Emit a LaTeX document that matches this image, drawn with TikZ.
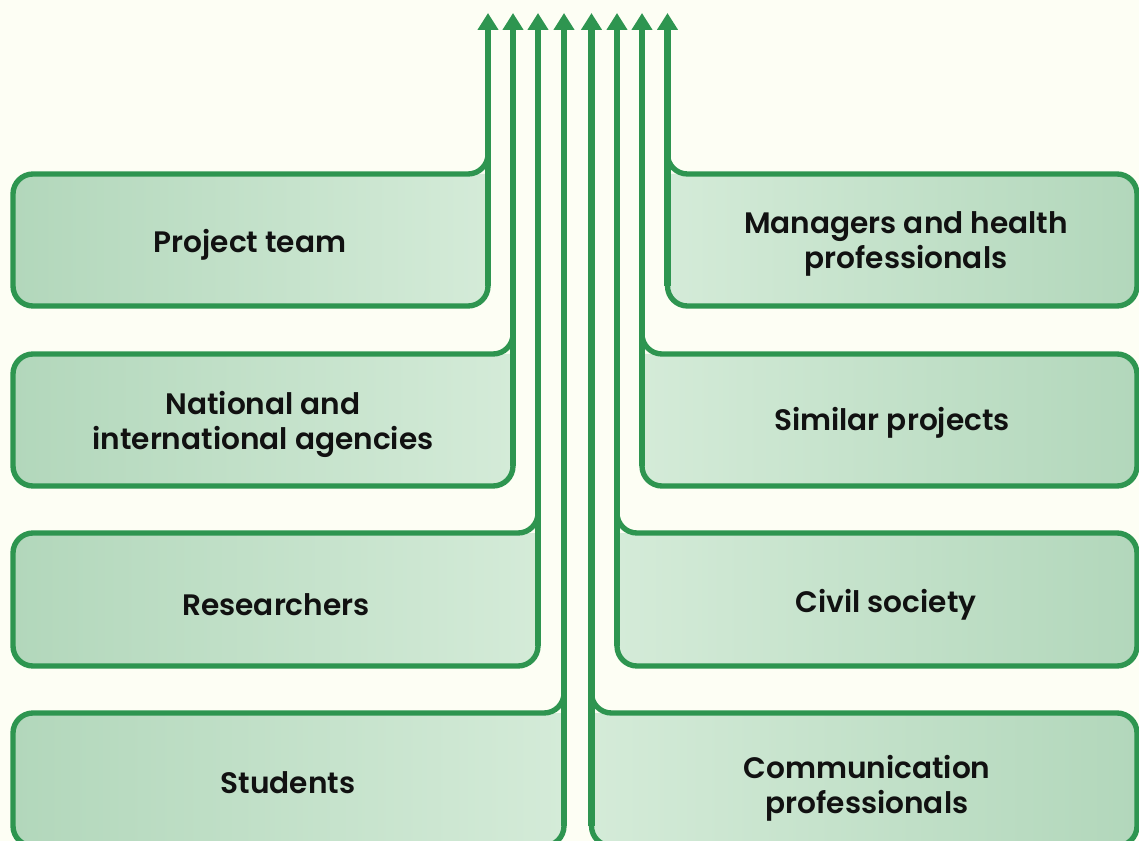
\documentclass[tikz,border=0pt]{standalone}
\usepackage{fontspec}
\setmainfont{Poppins}[UprightFont=* SemiBold]
\usetikzlibrary{arrows.meta}
\definecolor{bgc}{HTML}{FDFEF4}
\definecolor{gline}{HTML}{2E9550}
\definecolor{gdark}{HTML}{B2D7BB}
\definecolor{glight}{HTML}{D4EBD8}
\definecolor{txt}{HTML}{111111}
\tikzset{
  panel/.style={draw=gline, line width=4pt, rounded corners=15pt},
  flow/.style={draw=gline, line width=4.8pt, -{Triangle[length=12.75pt,width=15pt]}},
  lab/.style={text=txt, font=\fontsize{22.2}{26.3}\selectfont, align=center},
}
% #1 line x, #2 top, #3 bottom, #4 index
\newcommand\LeftPanel[4]{%
  \shade[left color=gdark, right color=glight, rounded corners=15pt]
    (#1,#3-50) -- (#1,#3) -- (13,#3) -- (13,#2) -- (#1-50,#2) [sharp corners] -- (#1,#2) -- cycle;
  \draw[panel] (#1,#2-40) -- (#1,#2) -- (13,#2) -- (13,#3) -- (#1,#3) -- (#1,#3-40);
  \coordinate (s#4) at (#1,#3-20);
  \coordinate (tip#4) at (#1,13);
  \draw[flow] (s#4) -- (tip#4);
}
\newcommand\RightPanel[4]{%
  \shade[left color=glight, right color=gdark, rounded corners=15pt]
    (#1,#3-50) -- (#1,#3) -- (1137,#3) -- (1137,#2) -- (#1+50,#2) [sharp corners] -- (#1,#2) -- cycle;
  \draw[panel] (#1,#2-40) -- (#1,#2) -- (1137,#2) -- (1137,#3) -- (#1,#3) -- (#1,#3-40);
  \coordinate (s#4) at (#1,#3-20);
  \coordinate (tip#4) at (#1,13);
  \draw[flow] (s#4) -- (tip#4);
}
\begin{document}
\begin{tikzpicture}[x=0.75pt,y=-0.75pt]
\useasboundingbox (0,0) rectangle (1139,841);
\fill[bgc] (0,0) rectangle (1139,841);
\clip (0,0) rectangle (1139,841);

\LeftPanel{488}{174}{306}{1}
\LeftPanel{513}{354}{486}{2}
\LeftPanel{538}{533}{666}{3}
\LeftPanel{564}{713}{846}{4}
\RightPanel{591.5}{713}{846}{5}
\RightPanel{617}{533}{666}{6}
\RightPanel{642}{354}{486}{7}
\RightPanel{667.5}{174}{306}{8}

\node[lab] (n1) at (250,245) {Project team};
\node[lab] (n2) at (263,424) {National and\\international agencies};
\node[lab] (n3) at (276,605) {Researchers};
\node[lab] (n4) at (288,783) {Students};
\node[lab] (n5) at (906,244) {Managers and health\\professionals};
\node[lab] (n6) at (892,423) {Similar projects};
\node[lab] (n7) at (886,605) {Civil society};
\node[lab] (n8) at (867,788) {Communication\\professionals};
\end{tikzpicture}
\end{document}
